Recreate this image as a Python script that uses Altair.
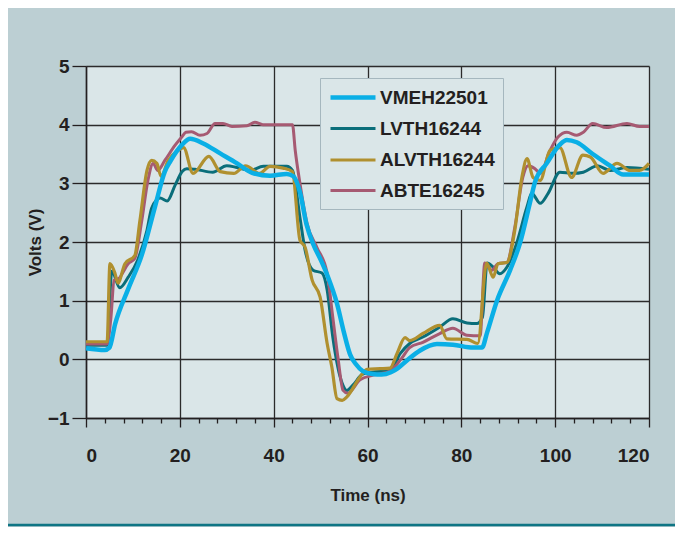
import altair as alt
import pandas as pd

SERIES = ["VMEH22501", "LVTH16244", "ALVTH16244", "ABTE16245"]
COLORS = ["#0aafe6", "#0a6e7a", "#b0902f", "#a65a72"]
WIDTHS = [4.5, 3.0, 3.2, 3.0]

vmeh_t = [0, 4, 5, 6.2, 9, 11.9, 14.7, 16.8, 18, 20.5, 22.2, 25, 28.6, 32.2, 35.4, 39.2, 42.8, 44.2,
          45.6, 47, 48.5, 50, 51.5, 53.5, 55, 56.3, 57.5, 59, 61, 63, 65, 66.5, 68.4, 71.2, 74.8, 78.2,
          82.5, 84.4, 85.5, 87.6, 90.4, 92.5, 94.6, 95.7, 98.2, 101, 102.5, 104.6, 108, 111.7, 114.5, 120]
vmeh_v = [0.19, 0.16, 0.2, 0.6, 1.2, 1.78, 2.6, 3.2, 3.38, 3.66, 3.76, 3.68, 3.51, 3.34, 3.18, 3.13, 3.16, 3.12,
          2.85, 2.3, 1.95, 1.7, 1.42, 0.95, 0.45, 0.08, -0.08, -0.2, -0.25, -0.26, -0.22, -0.15, -0.02, 0.15, 0.26, 0.25,
          0.2, 0.2, 0.46, 1.0, 1.52, 1.98, 2.66, 3.02, 3.34, 3.66, 3.74, 3.7, 3.5, 3.3, 3.15, 3.15]

lvth_t = [0, 4.5, 5.5, 7.2, 9, 11, 13, 14, 15.8, 17.3, 19, 20.5, 21.5, 23.2, 27, 30, 32.2, 35, 37.8, 42.8, 44,
          45.6, 46.7, 48.4, 50.3, 51.4, 52.6, 54.6, 55.6, 56.9, 59, 61, 64.8, 67, 69, 71.8, 75.4, 78.2, 81.2,
          83.3, 84.5, 85.5, 86.8, 88.2, 89.7, 91.8, 94, 95, 96.8, 98.5, 101, 103.8, 106, 109, 111.7, 115.3, 120]
lvth_v = [0.24, 0.24, 1.5, 1.22, 1.4, 1.69, 2.2, 2.58, 2.75, 2.7, 2.97, 3.2, 3.25, 3.24, 3.19, 3.3, 3.27, 3.22, 3.29, 3.29, 3.22,
          2.42, 1.86, 1.52, 1.47, 1.18, 0.38, -0.41, -0.53, -0.44, -0.25, -0.22, -0.19, 0.1, 0.27, 0.38, 0.55, 0.69, 0.62,
          0.61, 0.72, 1.64, 1.57, 1.46, 1.57, 1.98, 2.6, 2.83, 2.66, 2.83, 3.19, 3.17, 3.19, 3.3, 3.22, 3.27, 3.24]

alvth_t = [0, 4.5, 5.1, 6.2, 6.8, 8.3, 10.4, 11.5, 13, 14, 15.1, 16, 17.5, 19.6, 20.8, 22.8, 26.2, 28.6, 31.5,
           34, 37, 39.2, 42, 44, 45.6, 46.7, 48.2, 49.9, 51.4, 52.4, 53.5, 54.6, 55.6, 58.4, 59.9, 62.7, 64.8,
           66.3, 68, 69, 71.8, 75.4, 76.9, 81.2, 83.5, 85.4, 86.8, 87.8, 89.7, 91.4, 92.9, 94, 95.3, 96.8, 98.9,
           101, 103.5, 105.9, 107.5, 110.2, 113.2, 116, 118, 120]
alvth_v = [0.3, 0.3, 1.63, 1.46, 1.3, 1.63, 1.77, 2.37, 3.22, 3.39, 3.34, 3.12, 3.39, 3.56, 3.61, 3.17, 3.46, 3.2, 3.17,
           3.3, 3.17, 3.29, 3.26, 3.2, 2.03, 1.91, 1.35, 1.06, 0.27, -0.13, -0.67, -0.7, -0.64, -0.3, -0.17, -0.16, -0.15,
           0.1, 0.37, 0.32, 0.44, 0.58, 0.35, 0.34, 0.27, 1.64, 1.4, 1.63, 1.65, 2.2, 3.1, 3.42, 3.1, 3.05, 3.56,
           3.61, 3.1, 3.48, 3.45, 3.17, 3.34, 3.22, 3.22, 3.34]

abte_t = [0, 4.5, 5.3, 6, 7, 9, 10.4, 11.9, 13.2, 14.3, 15.3, 16.8, 19, 20.5, 21.3, 22.5, 24.3, 25.8, 27.5, 29.2,
          31.1, 34.3, 36, 37.7, 44, 44.6, 45.6, 47.1, 49.2, 51.4, 52.6, 53.7, 54.8, 55.8, 58.4, 61.2, 64.8, 67.3,
          69, 71.8, 75.4, 78.2, 81.2, 84, 85, 86.5, 87.8, 89.7, 91.4, 93.1, 94.2, 95.7, 96.8, 98.9, 100.6, 102.5,
          104.6, 106, 108, 111, 115.3, 118, 120]
abte_v = [0.26, 0.26, 0.7, 1.35, 1.38, 1.63, 1.72, 2.37, 3.05, 3.34, 3.22, 3.39, 3.65, 3.8, 3.87, 3.88, 3.82, 3.85, 4.02, 4.02,
          3.97, 3.98, 4.04, 4.0, 4.0, 3.56, 3.0, 2.32, 1.91, 1.47, 0.72, 0.03, -0.53, -0.58, -0.35, -0.27, -0.2, 0.02,
          0.2, 0.29, 0.44, 0.53, 0.41, 0.4, 1.64, 1.52, 1.63, 1.65, 2.25, 3.1, 3.3, 3.25, 3.17, 3.56, 3.79, 3.87,
          3.82, 3.87, 4.02, 3.95, 4.02, 3.97, 3.97]

rows = []
for name, ts, vs in [("LVTH16244", lvth_t, lvth_v), ("ABTE16245", abte_t, abte_v),
                     ("ALVTH16244", alvth_t, alvth_v), ("VMEH22501", vmeh_t, vmeh_v)]:
    for t, v in zip(ts, vs):
        rows.append({"series": name, "t": t, "v": v})
df = pd.DataFrame(rows)

FONT = "Liberation Sans"
INK = "#231f20"
x_major = "datum.value % 20 == 0"
y_major = "datum.value % 1 == 0"

legend = alt.Legend(title=None, orient="none", legendX=234, legendY=12)

lines = alt.Chart(df).mark_line(interpolate="monotone").encode(
    x=alt.X("t:Q", scale=alt.Scale(domain=[0, 120], nice=False, zero=False),
            axis=alt.Axis(values=list(range(0, 121, 4)), format="d",
                          labelExpr=f"{x_major} ? datum.label : ''",
                          tickSize={"condition": {"test": x_major, "value": 9}, "value": 5},
                          gridOpacity={"condition": {"test": x_major, "value": 1}, "value": 0},
                          labelPadding=19, title="Time (ns)", titleY=77, titleBaseline="middle")),
    y=alt.Y("v:Q", scale=alt.Scale(domain=[-1, 5], nice=False, zero=False),
            axis=alt.Axis(values=[x / 2 for x in range(-2, 11)], format="d",
                          labelExpr=f"{y_major} ? datum.label : ''",
                          tickSize={"condition": {"test": y_major, "value": 14}, "value": 7},
                          gridOpacity={"condition": {"test": y_major, "value": 1}, "value": 0},
                          labelPadding=3, title="Volts (V)", titleX=-51, titleY=176,
                          titleBaseline="middle")),
    color=alt.Color("series:N", scale=alt.Scale(domain=SERIES, range=COLORS), legend=legend),
    strokeWidth=alt.StrokeWidth("series:N", scale=alt.Scale(type="ordinal", domain=SERIES, range=WIDTHS),
                                legend=legend),
)

border = alt.Chart(alt.Data(values=[{}])).mark_rule(color="#0f7584", strokeWidth=2.5).encode(
    x=alt.value(-78), x2=alt.value(589), y=alt.value(459)
)

chart = alt.layer(lines, border).properties(
    width=563, height=352,
    autosize=alt.AutoSizeParams(type="none"),
    padding={"left": 78, "top": 58, "right": 26, "bottom": 109},
    background="#bccfd3",
).configure_view(fill="#dae6e8", stroke=None).configure_axis(
    labelFont=FONT, labelFontWeight="bold", labelFontSize=19, labelColor=INK,
    titleFont=FONT, titleFontWeight="bold", titleFontSize=17, titleColor=INK,
    gridColor="#2b2b2b", gridWidth=1.3, tickColor=INK, tickWidth=1.3,
    domainColor=INK, domainWidth=1.5,
).configure_legend(
    symbolType="M-1,0H4", symbolSize=324, symbolStrokeWidth=4,
    labelFont=FONT, labelFontWeight="bold", labelFontSize=19, labelColor=INK,
    fillColor="#dae6e8", strokeColor="#a5b7be", padding=8, rowPadding=10, labelOffset=29,
)

chart.save("out.html", embed_options={"renderer": "svg", "actions": False})
